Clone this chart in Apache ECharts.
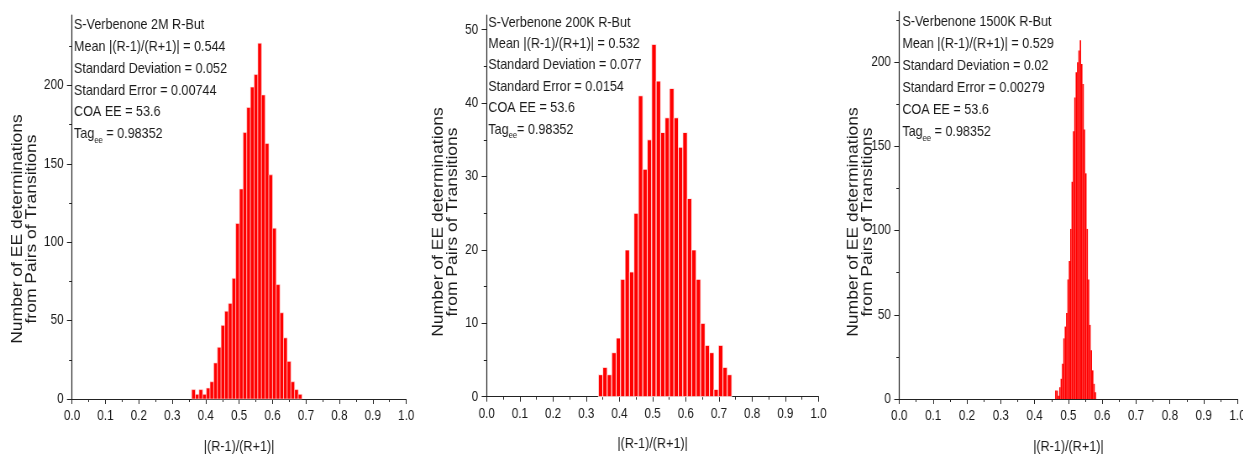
<!DOCTYPE html>
<html>
<head>
<meta charset="utf-8">
<title>S-Verbenone R-But EE histograms</title>
<script src="https://cdn.jsdelivr.net/npm/echarts@6/dist/echarts.min.js"></script>
<style>
  html, body { margin: 0; padding: 0; background: #fff; overflow: hidden; }
  #frame { width: 1243px; height: 455px; overflow: hidden; }
  #chart { height: 455px; transform-origin: 0 0; }
</style>
</head>
<body>
<div id="frame"><div id="chart"></div></div>
<script>
// ---- data -------------------------------------------------------------
const sampleNames = ['S-Verbenone 2M R-But', 'S-Verbenone 200K R-But', 'S-Verbenone 1500K R-But'];
const meanValues = ['0.544', '0.532', '0.529'];
const stdDevValues = ['0.052', '0.077', '0.02'];
const stdErrorValues = ['0.00744', '0.0154', '0.00279'];
const coaEEValues = ['53.6', '53.6', '53.6'];
const tagEEValues = ['0.98352', '0.98352', '0.98352'];

// histogram bins: first bin edge, bin width, counts per bin
const binStart2M = 0.358;
const binWidth2M = 0.011;
const counts2M = [6, 3, 6, 3, 7, 11, 23, 33, 47, 56, 61, 77, 112, 134, 170,
  186, 199, 207, 227, 194, 163, 143, 109, 73, 55, 39, 24, 11, 6, 3];

const binStart200K = 0.3365;
const binWidth200K = 0.0134;
const counts200K = [3, 4, 3, 6, 8, 16, 20, 17, 25, 41, 31, 35, 48, 43, 36,
  38, 42, 38, 34, 36, 27, 20, 16, 10, 7, 6, 1, 7, 4, 3];

const binStart1500K = 0.4607;
const binWidth1500K = 0.00404;
const counts1500K = [5, 5, 2, 7, 12, 21, 36, 43, 51, 71, 82, 101, 129, 159, 179,
  194, 200, 207, 213, 199, 187, 160, 134, 101, 71, 44, 29, 17, 9, 4];

// y-axis extents and tick values
const yMax = [245, 52, 230];
const yMajorTicks = [[0, 50, 100, 150, 200], [0, 10, 20, 30, 40, 50], [0, 50, 100, 150, 200]];
const yMinorTicks = [[25, 75, 125, 175, 225], [5, 15, 25, 35, 45], [25, 75, 125, 175, 225]];

const xAxisTitle = '|(R-1)/(R+1)|';
const yAxisTitle = 'Number of EE determinations\nfrom Pairs of Transitions';

// ---- layout & style ---------------------------------------------------
// The figure is drawn on a wider canvas and squeezed horizontally,
// giving the condensed lettering of the printed figure.
const SX = 0.84;
const W = 1243, H = 455;
const hx = px => px / SX;          // page x-pixels -> canvas x-pixels

const SANS = "'Liberation Sans', Arial, Helvetica, sans-serif";
const INK = '#1a1a1a';
const AXIS = '#222';

// plot areas in page pixels: left edge, right edge, top, bottom edge
const plotBoxes = [
  { x0: 72, x1: 406, y0: 15, y1: 399 },
  { x0: 486.7, x1: 818.3, y0: 15, y1: 396.7 },
  { x0: 899.3, x1: 1237.3, y0: 11.7, y1: 399 }
];
const infoBoxes = [
  { left: 74, top: 17.5, lh: 21.8 },
  { left: 488.3, top: 15, lh: 21.4 },
  { left: 902.3, top: 14.8, lh: 21.9 }
];
const yTitlePos = [[25, 229], [446, 222], [861, 222]];
const barEdge = [
  { stroke: 'rgba(255,225,225,0.85)', width: 0.7 },
  { stroke: 'rgba(255,255,255,0.95)', width: 0.9 },
  { stroke: null, width: 0 }
];

function toBins(start, width, counts) {
  return counts.map((c, i) => [start + i * width, start + (i + 1) * width, c]);
}
const binData = [
  toBins(binStart2M, binWidth2M, counts2M),
  toBins(binStart200K, binWidth200K, counts200K),
  toBins(binStart1500K, binWidth1500K, counts1500K)
];

const grids = [], xAxes = [], yAxes = [], series = [], graphics = [];

plotBoxes.forEach((b, i) => {
  grids.push({
    left: hx(b.x0), right: hx(W - b.x1), top: b.y0, bottom: H - b.y1,
    outerBoundsMode: 'none', containLabel: false
  });
  xAxes.push({
    type: 'value', gridIndex: i, min: 0, max: 1, interval: 0.1,
    name: xAxisTitle, nameLocation: 'middle', nameGap: 40,
    nameTextStyle: { fontFamily: SANS, fontSize: 15, color: INK },
    axisLine: { show: true, onZero: false, lineStyle: { color: AXIS, width: 1 } },
    axisTick: { show: true, length: 5, lineStyle: { color: AXIS } },
    minorTick: { show: true, splitNumber: 2, length: 3, lineStyle: { color: AXIS } },
    axisLabel: { formatter: v => v.toFixed(1), margin: 10, fontFamily: SANS, fontSize: 14, color: INK },
    splitLine: { show: false }, minorSplitLine: { show: false }
  });
  // labelled axis with major ticks
  yAxes.push({
    type: 'value', gridIndex: i, position: 'left', min: 0, max: yMax[i],
    axisLine: { show: true, onZero: false, lineStyle: { color: AXIS, width: 1.2 } },
    axisTick: { show: true, length: 6, customValues: yMajorTicks[i], lineStyle: { color: AXIS } },
    axisLabel: { customValues: yMajorTicks[i], margin: 10, fontFamily: SANS, fontSize: 14, color: INK },
    splitLine: { show: false }
  });
  // companion axis carrying the short minor ticks
  yAxes.push({
    type: 'value', gridIndex: i, position: 'left', offset: 0, min: 0, max: yMax[i],
    axisLine: { show: false },
    axisTick: { show: true, length: 3.5, customValues: yMinorTicks[i], lineStyle: { color: AXIS } },
    axisLabel: { show: false },
    splitLine: { show: false }
  });

  const edge = barEdge[i];
  series.push({
    type: 'custom',
    xAxisIndex: i, yAxisIndex: 2 * i,
    data: binData[i],
    encode: { x: [0, 1], y: 2 },
    renderItem: (params, api) => {
      const topLeft = api.coord([api.value(0), api.value(2)]);
      const bottomRight = api.coord([api.value(1), 0]);
      return {
        type: 'rect',
        shape: {
          x: topLeft[0], y: topLeft[1],
          width: bottomRight[0] - topLeft[0],
          height: bottomRight[1] - topLeft[1]
        },
        style: { fill: '#ff0000', stroke: edge.stroke, lineWidth: edge.width }
      };
    },
    silent: true
  });

  const box = infoBoxes[i];
  const tagGap = i === 1 ? '' : ' ';
  const lines = [
    '{a|' + sampleNames[i] + '}',
    '{a|Mean |(R-1)/(R+1)| = ' + meanValues[i] + '}',
    '{a|Standard Deviation = ' + stdDevValues[i] + '}',
    '{a|Standard Error = ' + stdErrorValues[i] + '}',
    '{a|COA EE = ' + coaEEValues[i] + '}',
    '{a|Tag}{s|ee}{a|' + tagGap + '= ' + tagEEValues[i] + '}'
  ];
  graphics.push({
    type: 'text', left: hx(box.left), top: box.top, z: 10,
    style: {
      text: lines.join('\n'),
      rich: {
        a: { fontFamily: SANS, fontSize: 15, lineHeight: box.lh, fill: INK },
        s: { fontFamily: SANS, fontSize: 9, lineHeight: 6, verticalAlign: 'bottom', fill: INK }
      }
    }
  });

  graphics.push({
    type: 'text', x: hx(yTitlePos[i][0]), y: yTitlePos[i][1], rotation: Math.PI / 2, z: 10,
    style: {
      text: yAxisTitle, align: 'center', verticalAlign: 'middle',
      fontFamily: SANS, fontSize: 17.5, lineHeight: 16.8, fill: INK
    }
  });
});

const el = document.getElementById('chart');
el.style.width = hx(W) + 'px';
el.style.transform = 'scaleX(' + SX + ')';

const chart = echarts.init(el, null, { renderer: 'canvas' });
chart.setOption({
  backgroundColor: '#ffffff',
  animation: false,
  grid: grids,
  xAxis: xAxes,
  yAxis: yAxes,
  series: series,
  graphic: graphics
});
</script>
</body>
</html>
